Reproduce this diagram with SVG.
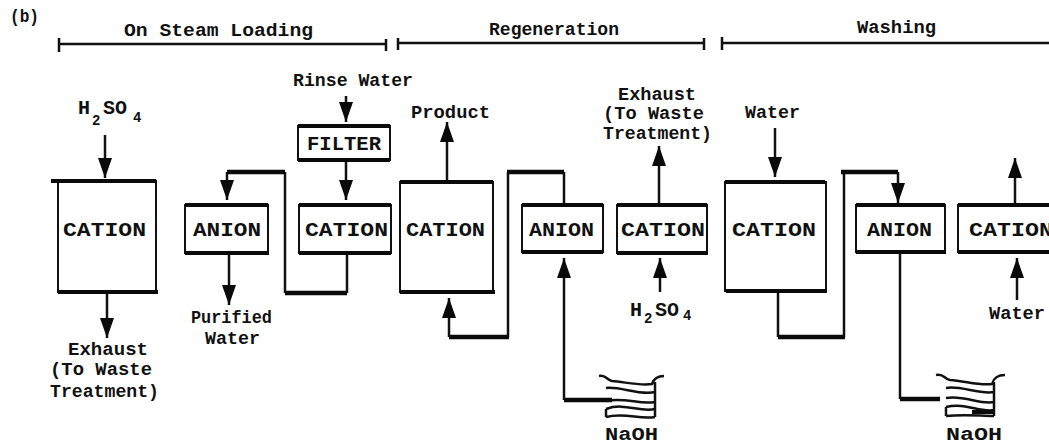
<svg xmlns="http://www.w3.org/2000/svg" width="1049" height="446" viewBox="0 0 1049 446">
<style>
text{font-family:"Liberation Mono","DejaVu Sans Mono",monospace;font-weight:700;font-size:18px;fill:#111}
.n{font-size:20px}
.s{font-size:14px}
.box{fill:#fff;stroke:#111;stroke-width:2}
.edge{fill:none;stroke:#0a0a0a;stroke-width:4}
.line{fill:none;stroke:#111;stroke-width:2.5}
.bold{fill:none;stroke:#0a0a0a;stroke-width:4.5}
.wave{fill:none;stroke:#111;stroke-width:2.5}
</style>
<defs>
<marker id="arrow" markerUnits="userSpaceOnUse" markerWidth="20" markerHeight="14" refX="20" refY="7" orient="auto" viewBox="0 0 20 14"><path d="M0 0L20 7L0 14Z" fill="#0a0a0a"/></marker>
</defs>
<rect width="1049" height="446" fill="#fff"/>
<text x="10" y="22" textLength="29" lengthAdjust="spacingAndGlyphs">(b)</text>
<g id="phases">
<path class="line" d="M59 38V52M59 44H386M386 39V51M398 38V50M398 43H704M704 38V50M722 37V50M722 43H1049"/>
<text x="124" y="36" textLength="189" lengthAdjust="spacingAndGlyphs">On Steam Loading</text>
<text x="489" y="35" textLength="130" lengthAdjust="spacingAndGlyphs">Regeneration</text>
<text x="857" y="33" textLength="79" lengthAdjust="spacingAndGlyphs">Washing</text>
</g>
<g id="connectors">
<path class="line" d="M105 135V178" marker-end="url(#arrow)"/>
<path class="line" d="M107 293V338" marker-end="url(#arrow)"/>
<path class="line" d="M346 96V122" marker-end="url(#arrow)"/>
<path class="line" d="M346 160V200" marker-end="url(#arrow)"/>
<path class="line" d="M229 253V305" marker-end="url(#arrow)"/>
<path class="line" d="M347 253V293M285 293V172"/>
<path class="bold" d="M347 293H285M285 172H227"/>
<path class="line" d="M227 172V200" marker-end="url(#arrow)"/>
<path class="line" d="M447 182V122" marker-end="url(#arrow)"/>
<path class="line" d="M564 205V172M508 172V337"/>
<path class="bold" d="M564 172H507M509 337H449"/>
<path class="line" d="M449 337V298" marker-end="url(#arrow)"/>
<path class="line" d="M659 205V146" marker-end="url(#arrow)"/>
<path class="line" d="M660 292V258" marker-end="url(#arrow)"/>
<path class="line" d="M564 400V258" marker-end="url(#arrow)"/>
<path class="bold" d="M564 400H612"/>
<path class="line" d="M775 128V177" marker-end="url(#arrow)"/>
<path class="line" d="M778 291V337M844 337V172"/>
<path class="bold" d="M778 337H845M841 172H898"/>
<path class="line" d="M898 172V203" marker-end="url(#arrow)"/>
<path class="line" d="M1015 205V158" marker-end="url(#arrow)"/>
<path class="line" d="M1017 300V258" marker-end="url(#arrow)"/>
<path class="line" d="M900 252V399"/>
<path class="bold" d="M900 399H940"/>
</g>
<g id="cation-1"><rect class="box" x="58" y="181" width="98" height="111"/><path class="edge" d="M51 181H156M58 292H158"/><text class="n" x="63" y="236" textLength="83" lengthAdjust="spacingAndGlyphs">CATION</text></g>
<g id="anion-1"><rect class="box" x="185" y="205" width="83" height="48"/><path class="edge" d="M185 205H268M185 253H269"/><text class="n" x="193" y="236" textLength="68" lengthAdjust="spacingAndGlyphs">ANION</text></g>
<g id="cation-2"><rect class="box" x="299" y="205" width="92" height="48"/><path class="edge" d="M299 205H391M299 253H391"/><text class="n" x="305" y="236" textLength="83" lengthAdjust="spacingAndGlyphs">CATION</text></g>
<g id="filter"><rect class="box" x="298" y="126" width="92" height="34"/><path class="edge" d="M298 126H390M298 160H390"/><text class="n" x="307" y="150" textLength="74" lengthAdjust="spacingAndGlyphs">FILTER</text></g>
<g id="cation-3"><rect class="box" x="400" y="182" width="93" height="110"/><path class="edge" d="M400 182H493M400 292H495"/><text class="n" x="406" y="236" textLength="79" lengthAdjust="spacingAndGlyphs">CATION</text></g>
<g id="anion-2"><rect class="box" x="522" y="205" width="81" height="47"/><path class="edge" d="M522 205H603M522 252H603"/><text class="n" x="529" y="236" textLength="65" lengthAdjust="spacingAndGlyphs">ANION</text></g>
<g id="cation-4"><rect class="box" x="617" y="205" width="90" height="48"/><path class="edge" d="M617 205H707M617 253H708"/><text class="n" x="621" y="236" textLength="84" lengthAdjust="spacingAndGlyphs">CATION</text></g>
<g id="cation-5"><rect class="box" x="725" y="182" width="101" height="109"/><path class="edge" d="M725 182H825M726 291H827"/><text class="n" x="732" y="236" textLength="84" lengthAdjust="spacingAndGlyphs">CATION</text></g>
<g id="anion-3"><rect class="box" x="856" y="205" width="89" height="47"/><path class="edge" d="M856 205H945M856 252H946"/><text class="n" x="867" y="236" textLength="65" lengthAdjust="spacingAndGlyphs">ANION</text></g>
<g id="cation-6"><rect class="box" x="958" y="205" width="100" height="47"/><path class="edge" d="M958 205H1049M958 252H1049"/><text class="n" x="969" y="236" textLength="84" lengthAdjust="spacingAndGlyphs">CATION</text></g>
<g id="tank-1"><path class="wave" d="M599 376C606 374 606 380 612 381C625 382 640 386 652 384C654 378 658 376 664 376M655 382V417M606 388C620 386 640 396 655 392M606 401C625 397 640 405 655 402M606 409C625 402 640 413 655 409M606 417C625 412 640 420 655 417M606 409V417"/><text x="605" y="440" textLength="53" lengthAdjust="spacingAndGlyphs">NaOH</text></g>
<g id="tank-2"><path class="wave" d="M936 375C944 373 944 379 950 380C965 381 980 386 992 384C994 377 998 375 1005 375M994 382V416M946 388C960 385 980 395 994 392M946 398C965 395 980 405 994 402M946 407C965 402 980 413 994 410M946 416C965 414 980 416 994 416M946 407V416"/><path class="edge" d="M972 412H994"/><text x="946" y="440" textLength="56" lengthAdjust="spacingAndGlyphs">NaOH</text></g>
<g id="labels">
<text class="n" x="78" y="114">H<tspan class="s" x="92" y="125">2</tspan><tspan class="n" x="103" y="114">SO</tspan><tspan class="s" x="133" y="122">4</tspan></text>
<text x="293" y="86" textLength="120" lengthAdjust="spacingAndGlyphs">Rinse Water</text>
<text x="68" y="355" textLength="80" lengthAdjust="spacingAndGlyphs">Exhaust</text>
<text x="50" y="375" textLength="102" lengthAdjust="spacingAndGlyphs">(To Waste</text>
<text x="50" y="397" textLength="109" lengthAdjust="spacingAndGlyphs">Treatment)</text>
<text x="191" y="323" textLength="81" lengthAdjust="spacingAndGlyphs">Purified</text>
<text x="205" y="344" textLength="55" lengthAdjust="spacingAndGlyphs">Water</text>
<text x="411" y="118" textLength="79" lengthAdjust="spacingAndGlyphs">Product</text>
<text x="618" y="100" textLength="78" lengthAdjust="spacingAndGlyphs">Exhaust</text>
<text x="603" y="119" textLength="101" lengthAdjust="spacingAndGlyphs">(To Waste</text>
<text x="603" y="139" textLength="109" lengthAdjust="spacingAndGlyphs">Treatment)</text>
<text x="745" y="118" textLength="55" lengthAdjust="spacingAndGlyphs">Water</text>
<text class="n" x="630" y="316">H<tspan class="s" x="644" y="323">2</tspan><tspan class="n" x="655" y="316">SO</tspan><tspan class="s" x="683" y="320">4</tspan></text>
<text x="989" y="319" textLength="56" lengthAdjust="spacingAndGlyphs">Water</text>
</g>
</svg>
